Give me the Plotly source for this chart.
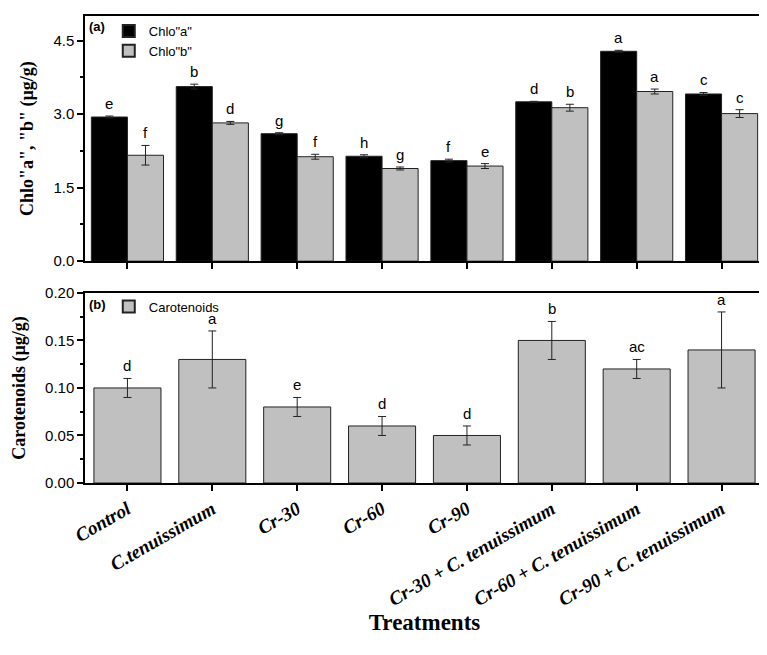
import plotly.graph_objects as go
from plotly.subplots import make_subplots

treatments = ['Control', 'C.tenuissimum', 'Cr-30', 'Cr-60', 'Cr-90',
              'Cr-30 + C. tenuissimum', 'Cr-60 + C. tenuissimum', 'Cr-90 + C. tenuissimum']
chl_a = [2.94, 3.56, 2.60, 2.14, 2.05, 3.25, 4.28, 3.41]
chl_a_err = [0.02, 0.05, 0.02, 0.03, 0.03, 0.01, 0.02, 0.03]
chl_a_lett = ['e', 'b', 'g', 'h', 'f', 'd', 'a', 'c']
chl_b = [2.16, 2.82, 2.13, 1.89, 1.94, 3.13, 3.46, 3.01]
chl_b_err = [0.20, 0.03, 0.05, 0.03, 0.05, 0.07, 0.05, 0.08]
chl_b_lett = ['f', 'd', 'f', 'g', 'e', 'b', 'a', 'c']
carot = [0.10, 0.13, 0.08, 0.06, 0.05, 0.15, 0.12, 0.14]
carot_err = [0.01, 0.03, 0.01, 0.01, 0.01, 0.02, 0.01, 0.04]
carot_lett = ['d', 'a', 'e', 'd', 'd', 'b', 'ac', 'a']

labels = ['<b><i>%s</i></b>' % t for t in treatments]
GRAY = '#c0c0c0'
err = dict(type='data', thickness=1, width=4, color='#222')

fig = make_subplots(rows=2, cols=1, shared_xaxes=False, vertical_spacing=0.07)
fig.add_trace(go.Bar(x=labels, y=chl_a, name='Chlo"a"', marker=dict(color='black', line=dict(color='#222', width=1)),
                     error_y=dict(array=chl_a_err, **err), legend='legend'), 1, 1)
fig.add_trace(go.Bar(x=labels, y=chl_b, name='Chlo"b"', marker=dict(color=GRAY, line=dict(color='#222', width=1)),
                     error_y=dict(array=chl_b_err, **err), legend='legend'), 1, 1)
fig.add_trace(go.Bar(x=labels, y=carot, name='Carotenoids', marker=dict(color=GRAY, line=dict(color='#222', width=1)),
                     error_y=dict(array=carot_err, **err), legend='legend2', width=0.79), 2, 1)

afont = dict(family='Liberation Sans', size=15, color='black')
for i, lab in enumerate(labels):
    fig.add_annotation(x=lab, y=chl_a[i] + chl_a_err[i], text=chl_a_lett[i], showarrow=False, xshift=-18,
                       yanchor='bottom', yshift=2, font=afont, xref='x', yref='y')
    fig.add_annotation(x=lab, y=chl_b[i] + chl_b_err[i], text=chl_b_lett[i], showarrow=False, xshift=18,
                       yanchor='bottom', yshift=2, font=afont, xref='x', yref='y')
    fig.add_annotation(x=lab, y=carot[i] + carot_err[i], text=carot_lett[i], showarrow=False,
                       yanchor='bottom', yshift=2, font=afont, xref='x2', yref='y2')
fig.add_annotation(x=0.003, y=0.995, xref='x domain', yref='y domain', text='<b>(a)</b>', showarrow=False,
                   xanchor='left', yanchor='top', font=dict(family='Liberation Sans', size=13, color='black'))
fig.add_annotation(x=0.003, y=0.99, xref='x2 domain', yref='y2 domain', text='<b>(b)</b>', showarrow=False,
                   xanchor='left', yanchor='top', font=dict(family='Liberation Sans', size=13, color='black'))

ax = dict(showline=True, linecolor='black', linewidth=1.5, mirror=True, showgrid=False, zeroline=False,
          ticks='outside', tickcolor='black', tickwidth=1.5, ticklen=6, automargin=False)
fig.update_xaxes(**ax)
fig.update_yaxes(**ax, tickfont=dict(family='Liberation Sans', size=15, color='black'),
                 minor=dict(ticks='outside', ticklen=3, tickcolor='black'))
fig.update_xaxes(showticklabels=False, domain=[0, 1], row=1, col=1)
fig.update_xaxes(tickangle=-30, tickfont=dict(family='Liberation Serif', size=19, color='black'),
                 title=dict(text='<b>Treatments</b>', standoff=0,
                            font=dict(family='Liberation Serif', size=23, color='black')),
                 row=2, col=1)
fig.update_yaxes(range=[0, 5.0], tickvals=[0, 1.5, 3.0, 4.5], ticktext=['0.0', '1.5', '3.0', '4.5'],
                 minor=dict(tickvals=[0.75, 2.25, 3.75]),
                 title=dict(text='<b>Chlo"a", "b" (µg/g)</b>', font=dict(family='Liberation Serif', size=18, color='black')),
                 domain=[0.475, 1], row=1, col=1)
fig.update_yaxes(range=[0, 0.2], dtick=0.05, tickformat='.2f', minor=dict(dtick=0.025),
                 title=dict(text='<b>Carotenoids (µg/g)</b>', font=dict(family='Liberation Serif', size=18, color='black')),
                 domain=[0, 0.407], row=2, col=1)

leg = dict(xref='paper', yref='paper', bgcolor='rgba(0,0,0,0)', font=dict(family='Liberation Sans', size=13, color='black'),
           itemsizing='constant', tracegroupgap=0)
fig.update_layout(
    width=767, height=655, margin=dict(l=77, r=11, t=8, b=180),
    plot_bgcolor='white', paper_bgcolor='white', barmode='group', bargap=0.15, bargroupgap=0,
    showlegend=True,
    legend=dict(x=0.035, y=1.0, xanchor='left', yanchor='top', **leg),
    legend2=dict(x=0.035, y=0.41, xanchor='left', yanchor='top', **leg),
)
fig.write_html("out.html")
